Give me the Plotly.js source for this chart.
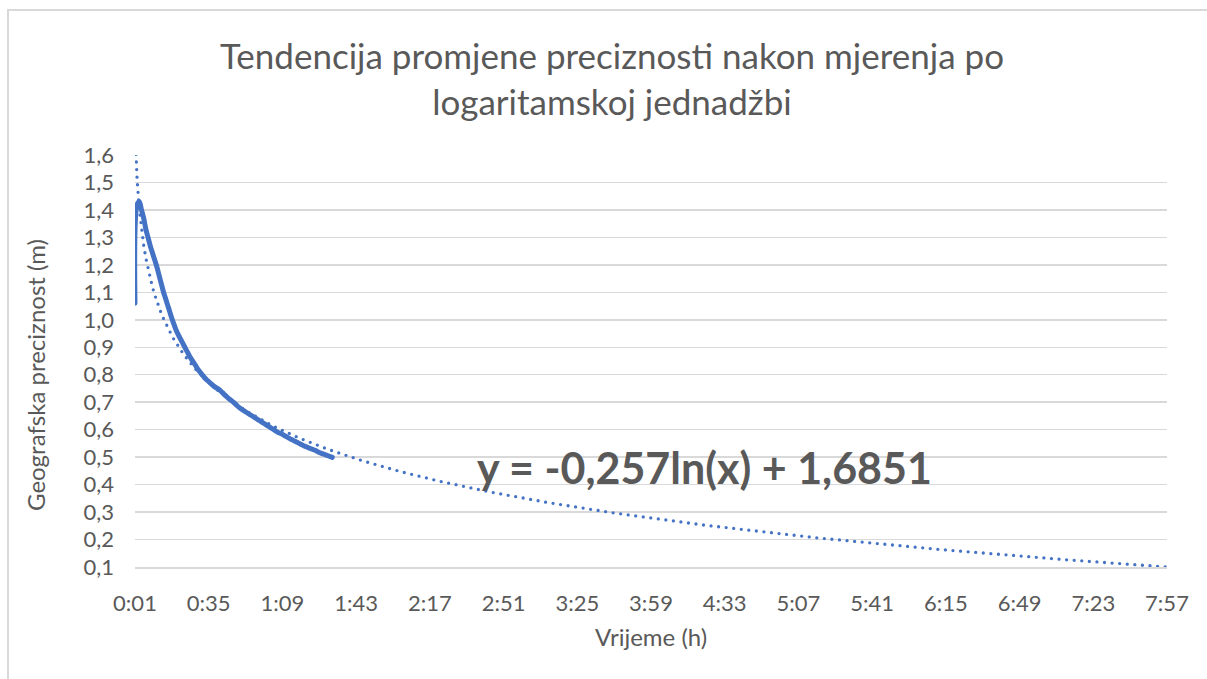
<!DOCTYPE html>
<html>
<head>
<meta charset="utf-8">
<script src="https://cdn.plot.ly/plotly-3.0.1.min.js"></script>
<style>
  html, body { margin: 0; padding: 0; background: #fff; overflow: hidden; }
  #chart { position: absolute; left: 0; top: 0; width: 1207px; height: 679px; }
  #frame { position: absolute; left: 7px; top: 9px; width: 1300px; height: 800px;
           border: 2px solid #D9D9D9; pointer-events: none; z-index: 5; }
  .js-line { stroke-linecap: round; stroke-linejoin: round; }
</style>
</head>
<body>
<div id="chart"></div>
<div id="frame"></div>
<script>
// Measured geographic precision (m), one value per minute starting at 0:01
const precision = [
  1.06, 1.42, 1.43, 1.40, 1.37, 1.33, 1.30, 1.27, 1.245, 1.22,
  1.195, 1.165, 1.135, 1.105, 1.08, 1.055, 1.03, 1.005, 0.983, 0.962,
  0.945, 0.93, 0.915, 0.90, 0.885, 0.87, 0.857, 0.845, 0.833, 0.82,
  0.81, 0.80, 0.79, 0.782, 0.775, 0.768, 0.761, 0.755, 0.75, 0.745,
  0.737, 0.73, 0.722, 0.715, 0.709, 0.702, 0.696, 0.688, 0.681, 0.675,
  0.67, 0.665, 0.66, 0.655, 0.65, 0.645, 0.64, 0.635, 0.63, 0.625,
  0.62, 0.615, 0.61, 0.605, 0.60, 0.595, 0.59, 0.587, 0.583, 0.578,
  0.574, 0.569, 0.565, 0.561, 0.557, 0.553, 0.549, 0.545, 0.541, 0.538,
  0.534, 0.531, 0.528, 0.525, 0.521, 0.517, 0.514, 0.511, 0.508, 0.505,
  0.502, 0.499
];

// Category axis tick labels (h:mm) and their category index (minute number)
const tickLabels = ["0:01","0:35","1:09","1:43","2:17","2:51","3:25","3:59",
                    "4:33","5:07","5:41","6:15","6:49","7:23","7:57"];
const tickIndex = [1, 35, 69, 103, 137, 171, 205, 239, 273, 307, 341, 375, 409, 443, 477];

// Logarithmic trendline shown on the chart: y = a*ln(x) + b, forecast to the last category
const trendA = -0.257;
const trendB = 1.6851;
const trendLast = 477;
const equationText = "y = -0,257ln(x) + 1,6851";

const dataX = precision.map((v, i) => i + 1);
const trendX = [];
const trendY = [];
for (let x = 1; x <= trendLast; x++) { trendX.push(x); trendY.push(trendA * Math.log(x) + trendB); }

const FONT = "Lato, 'Open Sans', sans-serif";
const GREY = "#595959";
const BLUE = "#4472C4";

const traces = [
  { x: dataX, y: precision, type: "scatter", mode: "lines",
    line: { color: BLUE, width: 5, shape: "spline", smoothing: 1 }, hoverinfo: "skip", showlegend: false },
  { x: trendX, y: trendY, type: "scatter", mode: "lines",
    line: { color: BLUE, width: 3.3, dash: "0px,7.6px" }, hoverinfo: "skip", showlegend: false }
];

const layout = {
  width: 1207, height: 679,
  paper_bgcolor: "#fff", plot_bgcolor: "#fff",
  margin: { l: 135, r: 40, t: 155, b: 112 },
  separators: ",.",
  font: { family: FONT, color: GREY },
  title: {
    text: "Tendencija promjene preciznosti nakon mjerenja po<br>logaritamskoj jednadžbi",
    font: { family: FONT, size: 35, color: GREY },
    x: 0.507, xanchor: "center", xref: "container",
    y: 1 - 69 / 679, yanchor: "middle", yref: "container"
  },
  xaxis: {
    range: [1, trendLast], tickmode: "array", tickvals: tickIndex, ticktext: tickLabels,
    showgrid: false, zeroline: false, showline: true, linecolor: "#D9D9D9", linewidth: 1.5,
    ticks: "", tickfont: { family: FONT, size: 22, color: GREY }, ticklabelstandoff: 16
  },
  yaxis: {
    range: [0.1, 1.6], tick0: 0.1, dtick: 0.1, tickformat: ".1f",
    showgrid: true, gridcolor: "#D9D9D9", gridwidth: 1.5, zeroline: false, showline: false,
    ticks: "", tickfont: { family: FONT, size: 22, color: GREY }, ticklabelstandoff: 20
  },
  annotations: [
    { text: equationText, xref: "paper", yref: "paper", x: (704 - 135) / 1032, y: (567 - 467) / 412,
      xanchor: "center", yanchor: "middle", showarrow: false,
      font: { family: FONT, size: 43, color: GREY, weight: "bold" } },
    { text: "Vrijeme (h)", xref: "paper", yref: "paper", x: (651 - 135) / 1032, y: -(636 - 567) / 412,
      xanchor: "center", yanchor: "middle", showarrow: false,
      font: { family: FONT, size: 24, color: GREY } },
    { text: "Geografska preciznost (m)", xref: "paper", yref: "paper", x: -(135 - 35) / 1032, y: (567 - 375) / 412,
      xanchor: "center", yanchor: "middle", showarrow: false, textangle: -90,
      font: { family: FONT, size: 24, color: GREY } }
  ]
};

Plotly.newPlot("chart", traces, layout, { staticPlot: true, displayModeBar: false });
</script>
</body>
</html>
